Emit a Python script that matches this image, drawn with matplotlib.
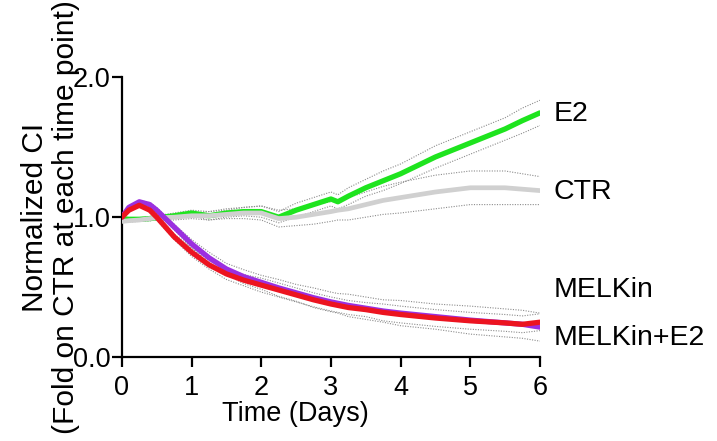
import numpy as np
import matplotlib
matplotlib.use('Agg')
import matplotlib.pyplot as plt

matplotlib.rcParams['font.family'] = ['Liberation Sans', 'DejaVu Sans']

# data (time in days)
t = [0, 0.1, 0.25, 0.4, 0.5, 0.75, 1, 1.25, 1.5, 1.75, 2, 2.25, 2.5,
     2.75, 3, 3.1, 3.25, 3.5, 3.75, 4, 4.5, 5, 5.5, 5.75, 6]

ctr = [0.97, 0.975, 0.98, 0.99, 0.995, 1.0, 1.01, 1.01, 1.02, 1.03, 1.03, 0.99, 1.0,
       1.02, 1.04, 1.05, 1.06, 1.09, 1.12, 1.14, 1.18, 1.21, 1.21, 1.20, 1.19]
ctr_err = [0.01, 0.01, 0.01, 0.015, 0.015, 0.02, 0.02, 0.03, 0.03, 0.04, 0.05, 0.06, 0.06,
           0.07, 0.07, 0.07, 0.08, 0.09, 0.10, 0.11, 0.12, 0.12, 0.12, 0.11, 0.10]

e2 = [0.99, 0.985, 0.985, 0.99, 0.995, 1.01, 1.03, 1.01, 1.03, 1.04, 1.04, 1.00, 1.05,
      1.09, 1.13, 1.11, 1.15, 1.21, 1.26, 1.31, 1.43, 1.53, 1.63, 1.69, 1.745]
e2_err = [0.01, 0.01, 0.01, 0.015, 0.015, 0.02, 0.02, 0.03, 0.03, 0.03, 0.04, 0.04, 0.05,
          0.05, 0.05, 0.05, 0.06, 0.06, 0.07, 0.07, 0.08, 0.08, 0.08, 0.09, 0.09]

melkin = [1.0, 1.07, 1.11, 1.09, 1.05, 0.93, 0.81, 0.71, 0.63, 0.575, 0.535, 0.495, 0.46,
          0.425, 0.395, 0.385, 0.37, 0.35, 0.33, 0.315, 0.29, 0.265, 0.245, 0.235, 0.215]
melkin_err = [0.01, 0.01, 0.01, 0.015, 0.02, 0.02, 0.03, 0.04, 0.04, 0.05, 0.05, 0.06, 0.06,
              0.07, 0.07, 0.07, 0.08, 0.08, 0.08, 0.09, 0.09, 0.1, 0.1, 0.1, 0.1]

melkin_e2 = [1.0, 1.05, 1.085, 1.05, 1.0, 0.86, 0.75, 0.66, 0.595, 0.55, 0.515, 0.48, 0.445,
             0.41, 0.38, 0.37, 0.355, 0.34, 0.32, 0.305, 0.28, 0.26, 0.245, 0.235, 0.25]
melkin_e2_err = [0.01, 0.01, 0.01, 0.015, 0.02, 0.02, 0.03, 0.03, 0.04, 0.04, 0.05, 0.05, 0.05,
                 0.05, 0.05, 0.05, 0.05, 0.05, 0.06, 0.06, 0.06, 0.06, 0.06, 0.06, 0.06]

series = [
    ("E2", e2, e2_err, "#1ee41e", 3.8, 1.74),
    ("CTR", ctr, ctr_err, "#d0d0d0", 3.4, 1.18),
    ("MELKin", melkin, melkin_err, "#9b2fe0", 3.8, 0.48),
    ("MELKin+E2", melkin_e2, melkin_e2_err, "#ec1420", 3.8, 0.135),
]

fig = plt.figure(figsize=(7.17, 4.41), dpi=100)
ax = fig.add_axes([0.170, 0.190, 0.583, 0.635])

tt = np.array(t)
# dotted error bands
for name, m, e, c, lw, ly in series:
    m = np.array(m)
    e = np.array(e)
    ax.plot(tt, m + e, color="#8c8c8c", lw=0.8, ls=(0, (1, 1.3)), zorder=2)
    ax.plot(tt, m - e, color="#8c8c8c", lw=0.8, ls=(0, (1, 1.3)), zorder=2)

# main lines
for i, (name, m, e, c, lw, ly) in enumerate(series):
    ax.plot(tt, m, color=c, lw=lw, solid_capstyle='round', zorder=3 + i)
    ax.text(6.2, ly, name, fontsize=20.5, va='center', ha='left', clip_on=False)

ax.set_xlim(0, 6)
ax.set_ylim(0, 2.0)
ax.set_xticks(range(0, 7))
ax.set_yticks([0.0, 1.0, 2.0])
ax.set_yticklabels(["0.0", "1.0", "2.0"])

for s in ["top", "right"]:
    ax.spines[s].set_visible(False)
for s in ["left", "bottom"]:
    ax.spines[s].set_linewidth(1.6)

ax.tick_params(axis='x', length=7, width=1.6, pad=6, labelsize=19.5)
ax.tick_params(axis='y', length=7, width=1.6, pad=1, labelsize=19.5)

ax.set_xlabel("Time (Days)", fontsize=19.5)
ax.xaxis.set_label_coords(0.416, -0.155)
ax.set_ylabel("Normalized CI\n(Fold on CTR at each time point)", fontsize=21.5, linespacing=1.12)
ax.yaxis.set_label_coords(-0.1, 0.5)

fig.savefig("out.png", dpi=100)
